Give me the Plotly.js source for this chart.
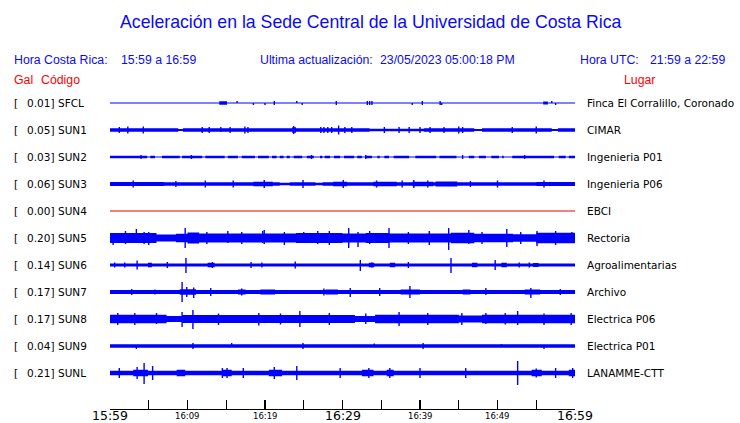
<!DOCTYPE html>
<html><head><meta charset="utf-8">
<script src="https://cdn.plot.ly/plotly-3.0.1.min.js"></script>
<style>html,body{margin:0;padding:0;background:#fff;} #chart{width:740px;height:423px;}</style>
</head><body><div id="chart"></div>
<script>
// ---------------- DATA ----------------
const STATIONS = ['SFCL','SUN1','SUN2','SUN3','SUN4','SUN5','SUN6','SUN7','SUN8','SUN9','SUNL'];
const PEAK_GAL = ['0.01','0.05','0.03','0.06','0.00','0.20','0.14','0.17','0.17','0.04','0.21'];
const PLACES = ['Finca El Corralillo, Coronado','CIMAR','Ingenieria P01','Ingenieria P06','EBCI','Rectoria',
                'Agroalimentarias','Archivo','Electrica P06','Electrica P01','LANAMME-CTT'];
const TRACE_COLORS = ['#0000ff','#0000ff','#0000ff','#0000ff','#ee0000','#0000ff','#0000ff','#0000ff','#0000ff','#0000ff','#0000ff'];
// time axis: minutes after 15:59
const TIME_TICKS = [0,10,20,30,40,50,60];
const TICK_LABELS = ['15:59','16:09','16:19','16:29','16:39','16:49','16:59'];
const TICK_BIG = [true,false,false,true,false,false,true];

// amplitude bands: [startMin, endMin, half-amplitude (counts)]
const SFCL_BANDS = [[14.1,15.1,1.8],[55.9,56.5,1.5]];
const SUN1_BANDS = [[0,8.8,1.7],[8.8,9.4,1.0],[9.4,33.5,1.7],[23.5,24.0,2.8],[33.5,40.5,1.2],[40.5,47.0,1.7],[47.0,48.0,1.0],[48.0,57.0,1.7],[57.0,57.8,1.0],[57.8,60,1.7]];
const SUN2_BANDS = [[0,4.8,1.3],[5.2,5.8,1.3],[6.7,9.0,1.3],[9.3,11.9,1.3],[12.3,14.8,1.3],[15.2,16.5,1.3],[17.0,18.7,1.3],[19.1,20.5,1.3],[20.9,21.5,1.3],[21.9,22.4,1.3],[22.8,23.2,1.3],[23.7,24.8,1.3],[25.4,26.3,1.3],[27.1,27.4,1.3],[27.7,28.4,1.3],[28.9,29.7,1.3],[30.2,31.5,1.3],[31.9,32.5,1.3],[32.9,33.8,1.3],[34.5,34.8,1.3],[35.4,36.0,1.3],[36.6,38.6,1.3],[39.4,42.1,1.3],[42.5,44.7,1.3],[46.3,47.0,1.3],[47.6,48.5,1.3],[49.2,50.2,1.3],[50.6,50.8,1.3],[51.9,57.3,1.3],[57.9,58.8,1.3],[59.2,60,1.3]];
const SUN3_BANDS = [[0,7,2.1],[7,18.5,1.8],[18.5,21,2.3],[21,21.9,1.8],[21.9,23.2,1.2],[23.2,26.5,1.8],[26.5,27.4,1.2],[27.4,28.8,1.8],[28.8,30.6,2.3],[30.6,34,1.8],[34,37,2.3],[37,39,1.8],[39,41.7,2.3],[41.7,42,1.8],[42,44.8,2.4],[44.8,55,1.8],[55,60,2.1]];
const SUN4_BANDS = [];
const SUN5_BANDS = [[0,6,5.0],[6,8.5,3.6],[8.5,10,4.3],[10,11.5,5.6],[11.5,24,4.5],[24,30,5.0],[30,33,4.5],[33,36,5.0],[36,44,4.5],[44,47,5.2],[47,52,4.3],[52,55,3.8],[55,60,5.2]];
const SUN6_BANDS = [[0,60,1.6],[4.9,5.4,2.3],[12.6,13.5,2.3],[33.4,34.1,2.3],[36.1,36.8,2.3],[46.7,47.4,2.3],[50.5,51.2,2.3],[54.6,55.3,2.1]];
const SUN7_BANDS = [[0,60,1.9],[9.0,11.1,2.8],[16.5,17.5,2.6],[19.4,21.3,2.6],[27.8,29.4,2.6],[37.5,40.0,2.6],[45.5,46.5,2.6],[53.5,55.5,2.6]];
const SUN8_BANDS = [[0,7.3,4.2],[7.3,9.3,3.0],[9.3,31.6,4.0],[31.6,34.2,3.1],[34.2,45,4.2],[45,48,3.5],[48,60,4.3]];
const SUN9_BANDS = [[0,60,1.8]];
const SUNL_BANDS = [[0,60,2.2],[3.0,4.9,3.3],[8.6,9.7,3.3],[14.5,15.7,3.3],[20.5,22.2,3.3],[32.5,34.0,3.3],[35.7,36.6,3.3],[54.4,55.7,3.3],[59.2,60,3.3]];

// individual peaks: [minute, up, down] (counts)
const SFCL_PEAKS = [[16.4,2,0],[18.5,0,2],[20.0,0,2],[21.2,2,2],[24.1,2,0],[24.8,0,2],[29.2,2,2],[33.2,2,2],[33.5,2,2],[33.8,2,2],[39.0,0,2],[40.3,2,2],[42.6,2,2],[42.8,0,2],[57.0,2,0],[57.5,0,2]];
const SUN1_PEAKS = [[1.2,3,3],[2.3,3.5,3.5],[4.3,3.5,3.5],[11.9,3,3],[12.8,3,3],[14.3,3,2],[15.5,3,3],[17.4,3.5,3.5],[17.8,3,3],[23.7,4,4],[27.2,3,3],[27.6,3,3],[28.1,3,3],[28.6,3,3],[29.5,4.5,4.5],[30.3,3,3],[31.2,3,3],[35.4,3,3],[37.3,3,3],[38.6,3,3],[40.0,3,3],[41.3,3,3],[43.1,3,3],[45.0,3.5,3.5],[45.5,3,3],[51.9,3,3],[55.0,3.5,3.5]];
const SUN2_PEAKS = [[4.0,2,2],[10.5,2,2],[26.0,2,2],[33.0,2,2],[45.5,2,2],[53.5,2,2]];
const SUN3_PEAKS = [[3.0,3.5,3.5],[8.5,3,3],[12.3,3.5,3.5],[15.9,3.5,3.5],[19.9,4,4],[24.9,4,4],[30.1,4,4],[34.4,3.5,3.5],[37.7,3.5,3.5],[39.2,4,4],[41.0,3.5,3.5],[46.5,3,3],[50.0,3.5,3.5],[56.0,3.5,3.5]];
const SUN4_PEAKS = [];
const SUN5_PEAKS = [[0.4,0,7],[2.0,7,6],[3.4,9,4],[4.4,6,6],[5.0,6,7],[9.7,10,10],[12.5,6,6],[15.2,7,5],[17.0,6,6],[19.7,7,5],[19.9,8,6],[22.5,6,7],[25.0,6,5],[26.8,7,6],[28.3,7,7],[30.8,10,10],[32.0,6,9],[33.5,7,6],[36.0,10,10],[38.5,6,6],[41.2,7,7],[43.7,10,12],[46.3,8,6],[48.0,6,6],[51.2,9,9],[53.0,6,6],[55.1,7,8],[57.5,7,7],[59.6,6,5]];
const SUN6_PEAKS = [[0.6,2.5,2.5],[1.9,2.5,2.5],[3.5,4.5,4.5],[7.4,3,3],[9.8,7,8],[13.2,3,3],[18.2,3,3],[19.6,2.5,2.5],[23.9,3.5,3.5],[32.3,5,6],[33.8,2.5,2.5],[38.5,3,3],[44.0,7,8],[49.7,5,5],[52.8,2.5,2.5],[54.1,2.5,2.5]];
const SUN7_PEAKS = [[2.8,3,3],[5.8,2.5,2.5],[9.3,10,10],[9.9,5,5],[10.8,4.5,6],[13.0,4,4],[17.0,3.5,3.5],[27.6,3.5,3.5],[31.0,4,5],[34.8,4,4],[38.7,6,6],[48.5,4,3],[54.3,4,6],[58.1,3,3]];
const SUN8_PEAKS = [[1.0,6,6],[3.2,6,6],[6.0,6,5],[9.3,7,8],[10.7,9,10],[14.0,5.5,6],[19.2,6,6.5],[22.0,5.5,5.5],[24.5,8,8],[28.3,6,6],[33.0,5.5,5],[37.3,7,7],[41.0,6,6],[45.4,6,6],[48.5,6,5],[51.0,6,5.5],[52.6,8,6],[56.0,5.5,6],[59.5,6,6]];
const SUN9_PEAKS = [[3.4,0,3],[10.7,3,3],[15.7,3,0],[24.9,3,3],[34.1,2.5,0],[40.4,3,3],[50.5,2,0],[56.0,0,3]];
const SUNL_PEAKS = [[1.2,5,5],[3.5,6,6],[4.4,10,11],[5.5,7,7],[14.5,5,5],[15.1,5,5],[17.2,5,5],[21.2,6,6],[24.1,7,7],[29.7,5,5],[33.4,5,5],[36.1,5,5],[40.0,5,5],[45.9,5,5],[52.6,12,12],[55.0,4.5,4.5],[57.5,5,5],[59.7,5,5]];

const BANDS = [SFCL_BANDS,SUN1_BANDS,SUN2_BANDS,SUN3_BANDS,SUN4_BANDS,SUN5_BANDS,SUN6_BANDS,SUN7_BANDS,SUN8_BANDS,SUN9_BANDS,SUNL_BANDS];
const PEAKS = [SFCL_PEAKS,SUN1_PEAKS,SUN2_PEAKS,SUN3_PEAKS,SUN4_PEAKS,SUN5_PEAKS,SUN6_PEAKS,SUN7_PEAKS,SUN8_PEAKS,SUN9_PEAKS,SUNL_PEAKS];

// ---------------- LAYOUT HELPERS ----------------
const W = 740, H = 423;
const L = 110, R = 575, T = 90, B = 409;   // plot area in px
const ROW = 27;                            // vertical spacing between traces (axis units = px)
const FIRST = 103;                         // px of first trace centre
const xp = px => (px - L) / (R - L);
const yp = py => (B - py) / (B - T);
const BLUE = '#0a0af5', RED = '#ff0000';
const HFONT = 'Liberation Sans, Arial, sans-serif';
const LFONT = 'DejaVu Sans, sans-serif';

const traces = [];
STATIONS.forEach((s, i) => {
  const c = -ROW * i;
  const col = TRACE_COLORS[i];
  traces.push({x:[0,60], y:[c,c], mode:'lines', line:{color:col, width:1.2}, hoverinfo:'skip', showlegend:false});
  const bx = [], by = [];
  BANDS[i].forEach(([t0,t1,a]) => { bx.push(t0,t1,t1,t0,t0,null); by.push(c-a,c-a,c+a,c+a,c-a,null); });
  if (bx.length) traces.push({x:bx, y:by, mode:'lines', fill:'toself', fillcolor:col, line:{color:col, width:0}, hoverinfo:'skip', showlegend:false});
  const sx = [], sy = [];
  PEAKS[i].forEach(([t,u,d]) => { sx.push(t,t,null); sy.push(c+u, c-d, null); });
  if (sx.length) traces.push({x:sx, y:sy, mode:'lines', line:{color:col, width:1.4}, hoverinfo:'skip', showlegend:false});
});

const ann = [];
function txt(text, px, py, opts) {
  ann.push(Object.assign({text, x:xp(px), y:yp(py), xref:'paper', yref:'paper', showarrow:false,
    xanchor:'left', yanchor:'middle', borderpad:0, font:{family:LFONT, size:10.5, color:'#000'}}, opts||{}));
}
// station labels
STATIONS.forEach((s, i) => {
  const py = FIRST + ROW * i;
  txt('[', 13, py);
  txt(PEAK_GAL[i] + ']', 55, py, {xanchor:'right'});
  txt(s, 57, py);
  txt(PLACES[i], 586, py);
});
// header
const hf = (c) => ({family:HFONT, size:12.3, color:c});
txt('Hora Costa Rica:', 13, 60, {font:hf(BLUE)});
txt('15:59 a 16:59', 120, 60, {font:hf(BLUE)});
txt('Ultima actualización:', 259, 60, {font:hf(BLUE)});
txt('23/05/2023 05:00:18 PM', 379, 60, {font:hf(BLUE)});
txt('Hora UTC:', 579, 60, {font:hf(BLUE)});
txt('21:59 a 22:59', 649, 60, {font:hf(BLUE)});
txt('Gal', 13, 80, {font:hf(RED)});
txt('Código', 40, 80, {font:hf(RED)});
txt('Lugar', 623, 80, {font:hf(RED)});
// time tick labels
TIME_TICKS.forEach((t, k) => {
  ann.push({text:TICK_LABELS[k], x:t, xref:'x', y:yp(TICK_BIG[k] ? 415 : 416), yref:'paper', showarrow:false,
    xanchor:'center', yanchor:'middle', borderpad:0,
    font:{family:LFONT, size: TICK_BIG[k] ? 12.5 : 8.5, color:'#000'}});
});

const layout = {
  width:W, height:H, paper_bgcolor:'#fff', plot_bgcolor:'#fff',
  margin:{l:L, r:W-R, t:T, b:H-B, pad:0},
  showlegend:false,
  title:{text:'Aceleración en la Sede Central de la Universidad de Costa Rica', x:0.501, xref:'container',
         y:1-22/H, yref:'container', xanchor:'center', yanchor:'middle',
         font:{family:HFONT, size:17.7, color:BLUE}},
  xaxis:{range:[0,60], showgrid:false, zeroline:false, showline:true, linecolor:'#000', linewidth:1.3,
         ticks:'inside', ticklen:9, tickwidth:1.3, tickcolor:'#000', tickmode:'linear', tick0:0, dtick:5,
         showticklabels:false, fixedrange:true},
  yaxis:{range:[-(B-FIRST), FIRST-T], showgrid:false, zeroline:false, showline:false, showticklabels:false,
         ticks:'', fixedrange:true},
  annotations:ann
};
Plotly.newPlot('chart', traces, layout, {staticPlot:true, displayModeBar:false});
</script></body></html>
